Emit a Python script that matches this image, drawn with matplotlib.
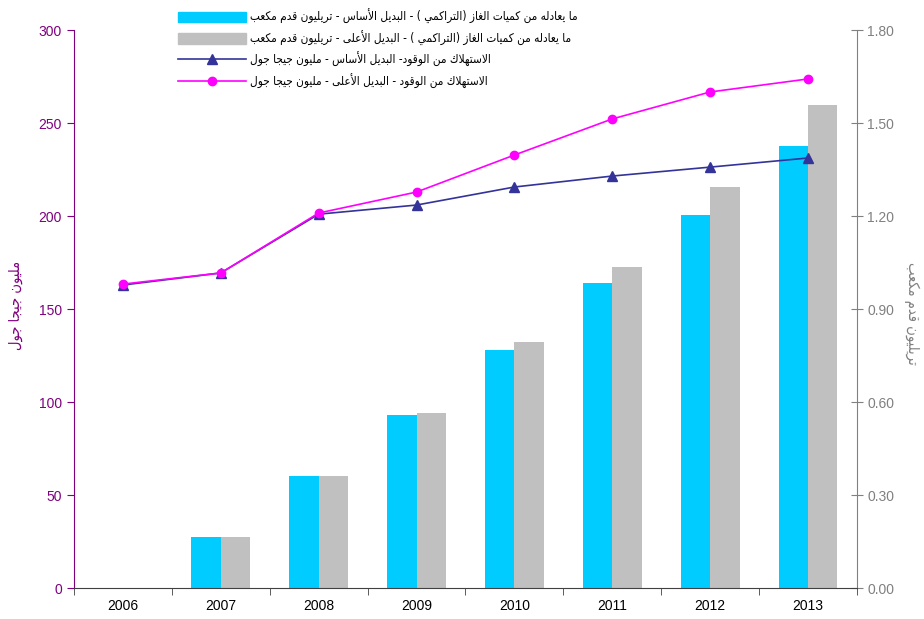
import matplotlib
matplotlib.use("Agg")
import matplotlib.pyplot as plt
from matplotlib.patches import Patch
from matplotlib.lines import Line2D
from matplotlib.font_manager import FontProperties
import numpy as np

plt.rcParams['font.family'] = ['Liberation Sans', 'DejaVu Sans']

# data
years = ['2006', '2007', '2008', '2009', '2010', '2011', '2012', '2013']
gas_base = [0.0, 0.165, 0.361, 0.558, 0.768, 0.984, 1.203, 1.426]
gas_high = [0.0, 0.165, 0.361, 0.565, 0.794, 1.035, 1.294, 1.558]
fuel_base = [162.9, 169.4, 201.0, 205.9, 215.6, 221.5, 226.3, 231.2]
fuel_high = [163.4, 169.4, 201.6, 212.9, 232.8, 252.2, 266.7, 273.7]

labels = ['ما يعادله من كميات الغاز (التراكمي ) - البديل الأساس - تريليون قدم مكعب',
          'ما يعادله من كميات الغاز (التراكمي ) - البديل الأعلى - تريليون قدم مكعب',
          'الاستهلاك من الوقود- البديل الأساس - مليون جيجا جول',
          'الاستهلاك من الوقود - البديل الأعلى - مليون جيجا جول']
left_label = 'مليون جيجا جول'
right_label = 'تريليون قدم مكعب'

# simple arabic shaping (matplotlib has no shaping / bidi)
FORMS = {'ء': (0xFE80, 1), 'آ': (0xFE81, 2), 'أ': (0xFE83, 2), 'ؤ': (0xFE85, 2),
         'إ': (0xFE87, 2), 'ئ': (0xFE89, 4), 'ا': (0xFE8D, 2), 'ب': (0xFE8F, 4),
         'ة': (0xFE93, 2), 'ت': (0xFE95, 4), 'ث': (0xFE99, 4), 'ج': (0xFE9D, 4),
         'ح': (0xFEA1, 4), 'خ': (0xFEA5, 4), 'د': (0xFEA9, 2), 'ذ': (0xFEAB, 2),
         'ر': (0xFEAD, 2), 'ز': (0xFEAF, 2), 'س': (0xFEB1, 4), 'ش': (0xFEB5, 4),
         'ص': (0xFEB9, 4), 'ض': (0xFEBD, 4), 'ط': (0xFEC1, 4), 'ظ': (0xFEC5, 4),
         'ع': (0xFEC9, 4), 'غ': (0xFECD, 4), 'ف': (0xFED1, 4), 'ق': (0xFED5, 4),
         'ك': (0xFED9, 4), 'ل': (0xFEDD, 4), 'م': (0xFEE1, 4), 'ن': (0xFEE5, 4),
         'ه': (0xFEE9, 4), 'و': (0xFEED, 2), 'ى': (0xFEEF, 2), 'ي': (0xFEF1, 4)}
LAMALEF = {'آ': 0xFEF5, 'أ': 0xFEF7, 'إ': 0xFEF9, 'ا': 0xFEFB}
MIRROR = {'(': ')', ')': '('}


def shape(s):
    out = []
    i = 0
    while i < len(s):
        c = s[i]
        prev = s[i - 1] if i > 0 else ''
        joins_prev = prev in FORMS and FORMS[prev][1] == 4 and c in FORMS
        if c == 'ل' and i + 1 < len(s) and s[i + 1] in LAMALEF:
            out.append(chr(LAMALEF[s[i + 1]] + (1 if joins_prev else 0)))
            i += 2
            continue
        if c not in FORMS:
            out.append(MIRROR.get(c, c))
            i += 1
            continue
        base, n = FORMS[c]
        nxt = s[i + 1] if i + 1 < len(s) else ''
        joins_next = n == 4 and nxt in FORMS
        if n == 1:
            off = 0
        elif n == 2:
            off = 1 if joins_prev else 0
        else:
            off = 3 if (joins_prev and joins_next) else 1 if joins_prev else 2 if joins_next else 0
        out.append(chr(base + off))
        i += 1
    return ''.join(out[::-1])


purple = '#800080'
grey = '#808080'
arfont = FontProperties(family=['DejaVu Sans'], stretch='condensed', size=8.5)
axfont = FontProperties(family=['DejaVu Sans'], stretch='condensed', size=10.5)

fig = plt.figure(figsize=(9.24, 6.19), dpi=100)
ax = fig.add_axes([0.080, 0.050, 0.8475, 0.9015])
ax2 = ax.twinx()

x = np.arange(len(years))
w = 0.3
ax2.bar(x - w / 2, gas_base, w, color='#00CCFF')
ax2.bar(x + w / 2, gas_high, w, color='#C0C0C0')
ax2.set_ylim(0, 1.8)
ax2.set_yticks(np.arange(0, 1.81, 0.3))
ax2.set_yticklabels(['%.2f' % v for v in np.arange(0, 1.81, 0.3)])

ax.plot(x, fuel_base, color='#333399', marker='^', markersize=7, lw=1.2)
ax.plot(x, fuel_high, color='#FF00FF', marker='o', markersize=6, lw=1.2)
ax.set_ylim(0, 300)
ax.set_yticks(range(0, 301, 50))
ax.set_xlim(-0.5, 7.5)
ax.set_zorder(ax2.get_zorder() + 1)
ax.patch.set_visible(False)

ax.set_xticks(x)
ax.set_xticklabels(years, fontsize=10)
ax.set_xticks(np.arange(-0.5, 7.6, 1), minor=True)
ax.tick_params(axis='x', which='major', length=0, pad=8)
ax.tick_params(axis='x', which='minor', length=5, color='#404040', direction='out')
ax.tick_params(axis='y', colors=purple, labelsize=10, length=5)
ax2.tick_params(axis='y', colors=grey, labelsize=10, length=8, direction='inout')

for a in (ax, ax2):
    a.spines['top'].set_visible(False)
ax.spines['left'].set_color(purple)
ax.spines['right'].set_visible(False)
ax2.spines['left'].set_visible(False)
ax2.spines['right'].set_color(grey)
ax.spines['bottom'].set_color('#404040')
ax2.spines['bottom'].set_visible(False)

fig.text(0.017, 1 - 305 / 619, shape(left_label), rotation=90, color=purple,
         fontproperties=axfont, ha='center', va='center')
fig.text(0.987, 1 - 313 / 619, shape(right_label), rotation=-90, color=grey,
         fontproperties=axfont, ha='center', va='center')

handles = [Patch(color='#00CCFF'), Patch(color='#C0C0C0'),
           Line2D([], [], color='#333399', marker='^', markersize=7, lw=1.2),
           Line2D([], [], color='#FF00FF', marker='o', markersize=6, lw=1.2)]
fig.legend(handles, [shape(l) for l in labels], loc='upper left',
           bbox_to_anchor=(178 / 924, 1 - 9 / 619), frameon=False, prop=arfont,
           handlelength=5.8, handleheight=1.0, handletextpad=0.3, labelspacing=0.55,
           borderpad=0, borderaxespad=0)

fig.savefig('out.png', dpi=100)
